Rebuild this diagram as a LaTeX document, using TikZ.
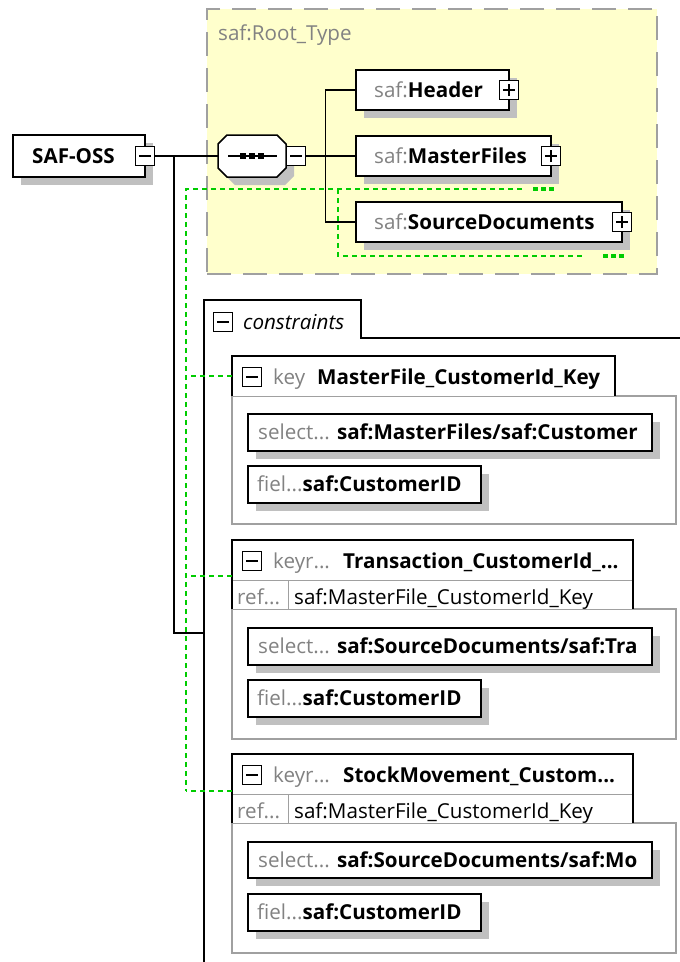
\documentclass[tikz,border=0pt]{standalone}
\usepackage{fontspec}
\setmainfont{Open Sans}
\usetikzlibrary{fit}
\definecolor{yel}{RGB}{255,255,204}
\definecolor{ygrid}{RGB}{160,160,160}
\definecolor{grn}{RGB}{0,204,0}
\definecolor{shd}{RGB}{192,192,192}
\definecolor{gtxt}{RGB}{130,130,130}
\definecolor{bodyc}{RGB}{160,160,160}
\tikzset{
 elbox/.style={draw=black, line width=1.5pt, fill=white, inner sep=0pt},
 bodybox/.style={draw=bodyc, line width=1.3pt, fill=white, inner sep=0pt},
 ghost/.style={inner sep=0pt},
 pmbox/.style={draw=black, line width=1.3pt, fill=white, minimum width=19pt, minimum height=19pt, inner sep=0pt},
 minusbox/.style={pmbox, path picture={\draw[line width=1.3pt] ([xshift=-6pt]path picture bounding box.center) -- ([xshift=6pt]path picture bounding box.center);}},
 plusbox/.style={pmbox, path picture={\draw[line width=1.3pt] ([xshift=-6pt]path picture bounding box.center) -- ([xshift=6pt]path picture bounding box.center) ([yshift=-6pt]path picture bounding box.center) -- ([yshift=6pt]path picture bounding box.center);}},
 txt/.style={inner sep=0pt, anchor=base west, font=\fontsize{20.6}{24}\selectfont},
 gtx/.style={txt, text=gtxt},
 conn/.style={draw=black, line width=1.5pt},
 tabline/.style={draw=black, line width=1.5pt},
 gdash/.style={draw=grn, line width=1.5pt, dash pattern=on 5pt off 4pt},
 gdots/.style={draw=grn, line width=4pt, dash pattern=on 5pt off 3pt},
 shadowfill/.style={fill=shd}
}
\begin{document}
\begin{tikzpicture}[x=1pt,y=-1pt]
\useasboundingbox (0,0) rectangle (680,962);
\fill[white] (0,0) rectangle (680,962);

% ---------- Root type region ----------
\node[draw=ygrid, fill=yel, line width=2pt, dash pattern=on 24pt off 12pt, inner sep=0pt, fit={(207,9)(657,274)}] (rt) {};
\node[gtx] (rtl) at (218,40) {saf:Root\_Type};

% ---------- green identity lines ----------
\coordinate (g0) at (186,189);
\coordinate (g1) at (522,189);
\coordinate (g2) at (338,189);
\coordinate (g3) at (583,256);
\draw[gdash] (g1) -- (g0) -- (186,791);
\draw[gdash] (g2) |- (g3);
\draw[gdots] (533,189) -- (554,189);
\draw[gdots] (603,256) -- (624,256);

% ---------- SAF-OSS ----------
\fill[shadowfill] (21,143) rectangle (153,185);
\node[elbox, fit={(13,135)(145,177)}] (saf) {};
\node[txt] (saft) at (32,163) {\bfseries SAF-OSS};
\node[minusbox] (safm) at (145,156) {};

% ---------- sequence ----------
\fill[shadowfill] (235,143) -- (285,143) -- (294,152) -- (294,176) -- (285,185) -- (235,185) -- (226,176) -- (226,152) -- cycle;
\draw[line width=1.5pt, fill=white] (227,135) -- (277,135) -- (286,144) -- (286,168) -- (277,177) -- (227,177) -- (218,168) -- (218,144) -- cycle;
\node[ghost, fit={(218,135)(286,177)}] (seq) {};
\draw[line width=1.3pt] (228,156) -- (277,156);
\draw[line width=6pt, dash pattern=on 6pt off 3pt] (240,156) -- (264,156);
\node[minusbox] (seqm) at (296,156) {};

% ---------- children ----------
\fill[shadowfill] (364,78) rectangle (517,118);
\node[elbox, fit={(356,70)(509,110)}] (hd) {};
\node[txt] (hdt) at (374,97) {{\color{gtxt}saf:}\textbf{Header}};
\node[plusbox] (hdp) at (509,90) {};

\fill[shadowfill] (364,144) rectangle (559,184);
\node[elbox, fit={(356,136)(551,176)}] (mf) {};
\node[txt] (mft) at (374,163) {{\color{gtxt}saf:}\textbf{MasterFiles}};
\node[plusbox] (mfp) at (551,156) {};

\fill[shadowfill] (364,210) rectangle (630,250);
\node[elbox, fit={(356,202)(622,242)}] (sd) {};
\node[txt] (sdt) at (374,229) {{\color{gtxt}saf:}\textbf{SourceDocuments}};
\node[plusbox] (sdp) at (622,222) {};

% ---------- connectors ----------
\draw[conn] (safm.east) -- (seq.west);
\draw[conn] (seqm.east) -- (mf.west);
\draw[conn] (hd.west) -- ++(-30,0) |- (sd.west);
\coordinate (j1) at (174,156);
\coordinate (consj) at (204,633);
\draw[conn] (j1) |- (consj);

% ---------- constraints ----------
\node[ghost, fit={(204,300)(361,338)}] (cons) {};
\draw[tabline] (204,962) -- (204,300) -- (361,300) -- (361,338) -- (680,338);
\node[minusbox] (consm) at (223,322) {};
\node[txt, font=\fontsize{20.6}{24}\selectfont\itshape] (const) at (243,329) {constraints};

% ---------- key 1 ----------
\node[bodybox, fit={(232,396)(676,524)}] (k1b) {};
\fill[white] (232,356) rectangle (615,396);
\node[ghost, fit={(232,356)(615,396)}] (k1) {};
\draw[tabline] (232,396) -- (232,356) -- (615,356) -- (615,396);
\node[minusbox] (k1m) at (252,377) {};
\node[gtx] (k1k) at (273,384) {key};
\node[txt] (k1n) at (317,384) {\bfseries MasterFile\_CustomerId\_Key};
\fill[shadowfill] (256,422) rectangle (660,459);
\node[elbox, fit={(248,414)(652,451)}] (k1s) {};
\begin{scope}
\clip (248,414) rectangle (641,451);
\node[txt] (k1st) at (258,439) {{\color{gtxt}select...} \textbf{saf:MasterFiles/saf:Customer}};
\end{scope}
\fill[shadowfill] (256,474) rectangle (489,511);
\node[elbox, fit={(248,466)(481,503)}] (k1f) {};
\node[txt] (k1ft) at (257,491) {{\color{gtxt}fiel...}\textbf{saf:CustomerID}};

% ---------- keyref 1 ----------
\node[bodybox, fit={(232,609)(676,739)}] (k2b) {};
\fill[white] (232,540) rectangle (633,609);
\node[ghost, fit={(232,540)(633,612)}] (k2) {};
\draw[draw=bodyc, line width=1pt] (232,580) -- (633,580) (288,580) -- (288,609);
\draw[tabline] (232,609) -- (232,540) -- (633,540) -- (633,609);
\node[minusbox] (k2m) at (252,561) {};
\node[gtx] (k2k) at (273,568) {keyr...};
\node[txt] (k2n) at (343,568) {\bfseries Transaction\_CustomerId\_...};
\node[gtx] (k2r) at (237,604) {ref...};
\node[txt] (k2rv) at (294,604) {saf:MasterFile\_CustomerId\_Key};
\fill[shadowfill] (256,636) rectangle (660,673);
\node[elbox, fit={(248,628)(652,665)}] (k2s) {};
\begin{scope}
\clip (248,628) rectangle (641,665);
\node[txt] (k2st) at (258,653) {{\color{gtxt}select...} \textbf{saf:SourceDocuments/saf:Tra}};
\end{scope}
\fill[shadowfill] (256,688) rectangle (489,725);
\node[elbox, fit={(248,680)(481,717)}] (k2f) {};
\node[txt] (k2ft) at (257,705) {{\color{gtxt}fiel...}\textbf{saf:CustomerID}};

% ---------- keyref 2 ----------
\node[bodybox, fit={(232,823)(676,953)}] (k3b) {};
\fill[white] (232,754) rectangle (633,823);
\node[ghost, fit={(232,754)(633,828)}] (k3) {};
\draw[draw=bodyc, line width=1pt] (232,794) -- (633,794) (288,794) -- (288,823);
\draw[tabline] (232,823) -- (232,754) -- (633,754) -- (633,823);
\node[minusbox] (k3m) at (252,775) {};
\node[gtx] (k3k) at (273,782) {keyr...};
\node[txt] (k3n) at (343,782) {\bfseries StockMovement\_Custom...};
\node[gtx] (k3r) at (237,818) {ref...};
\node[txt] (k3rv) at (294,818) {saf:MasterFile\_CustomerId\_Key};
\fill[shadowfill] (256,850) rectangle (660,886);
\node[elbox, fit={(248,842)(652,878)}] (k3s) {};
\begin{scope}
\clip (248,842) rectangle (641,878);
\node[txt] (k3st) at (258,867) {{\color{gtxt}select...} \textbf{saf:SourceDocuments/saf:Mo}};
\end{scope}
\fill[shadowfill] (256,902) rectangle (489,939);
\node[elbox, fit={(248,894)(481,931)}] (k3f) {};
\node[txt] (k3ft) at (257,919) {{\color{gtxt}fiel...}\textbf{saf:CustomerID}};

% ---------- green stubs ----------
\draw[gdash] (k1.west) -- (k1.west -| g0);
\draw[gdash] (k2.west) -- (k2.west -| g0);
\draw[gdash] (k3.west) -- (k3.west -| g0);
\end{tikzpicture}
\end{document}
